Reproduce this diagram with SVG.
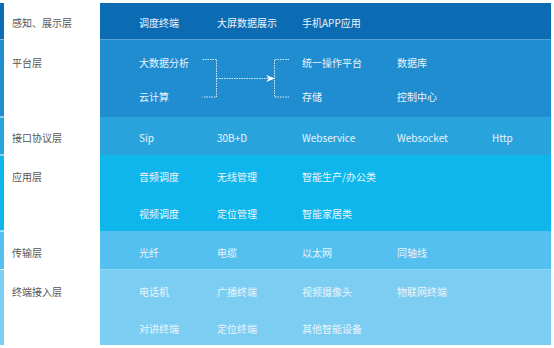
<svg xmlns="http://www.w3.org/2000/svg" width="554" height="348" viewBox="0 0 554 348">
<defs>
<style>
.lbl{font-family:"Noto Sans CJK SC","Noto Sans",sans-serif;font-size:10px;fill:#555;dominant-baseline:central}
.t{font-family:"Noto Sans CJK SC","Noto Sans",sans-serif;font-size:10px;fill:#eaf5fc;dominant-baseline:central}
.c{fill:none;stroke:#d6ecf8;stroke-width:1;stroke-dasharray:1.5 1}
</style>
<marker id="ah" viewBox="0 0 10 8" refX="9" refY="4" markerWidth="9" markerHeight="7" markerUnits="userSpaceOnUse" orient="auto">
<path d="M0,0 L10,4 L0,8 L3,4 Z" fill="#ffffff"/>
</marker>
</defs>
<rect width="554" height="348" fill="#ffffff"/>
<g id="layer-perception">
<rect x="0" y="3" width="4" height="36.5" fill="#0b6cb4"/>
<rect x="100" y="3" width="451" height="36.5" fill="#0b6cb4"/>
<text class="lbl" x="12" y="22">感知、展示层</text>
<text class="t" x="139" y="22">调度终端</text>
<text class="t" x="217" y="22">大屏数据展示</text>
<text class="t" x="302" y="22">手机APP应用</text>
</g>
<g id="layer-platform">
<rect x="0" y="40" width="4" height="76.5" fill="#1f8dcf"/>
<rect x="100" y="39.5" width="451" height="77.5" fill="#1f8dcf"/>
<text class="lbl" x="12" y="62">平台层</text>
<text class="t" x="139" y="62">大数据分析</text>
<text class="t" x="139" y="96">云计算</text>
<text class="t" x="302" y="62">统一操作平台</text>
<text class="t" x="302" y="96">存储</text>
<text class="t" x="397" y="62">数据库</text>
<text class="t" x="397" y="96">控制中心</text>
</g>
<g id="layer-interface">
<rect x="0" y="117.5" width="4" height="37" fill="#29a3dc"/>
<rect x="100" y="117" width="451" height="38" fill="#29a3dc"/>
<text class="lbl" x="12" y="137">接口协议层</text>
<text class="t" x="139" y="137">Sip</text>
<text class="t" x="217" y="137">30B+D</text>
<text class="t" x="302" y="137">Webservice</text>
<text class="t" x="397" y="137">Websocket</text>
<text class="t" x="492" y="137">Http</text>
</g>
<g id="layer-application">
<rect x="0" y="155.5" width="4" height="75" fill="#0eb6ec"/>
<rect x="100" y="155" width="451" height="76" fill="#0eb6ec"/>
<text class="lbl" x="12" y="176">应用层</text>
<text class="t" x="139" y="176">音频调度</text>
<text class="t" x="139" y="213">视频调度</text>
<text class="t" x="217" y="176">无线管理</text>
<text class="t" x="217" y="213">定位管理</text>
<text class="t" x="302" y="176">智能生产/办公类</text>
<text class="t" x="302" y="213">智能家居类</text>
</g>
<g id="layer-transport">
<rect x="0" y="231.5" width="4" height="37.5" fill="#53c0ef"/>
<rect x="100" y="231" width="451" height="38.5" fill="#53c0ef"/>
<text class="lbl" x="12" y="252">传输层</text>
<text class="t" x="139" y="252">光纤</text>
<text class="t" x="217" y="252">电缆</text>
<text class="t" x="302" y="252">以太网</text>
<text class="t" x="397" y="252">同轴线</text>
</g>
<g id="layer-terminal">
<rect x="0" y="270" width="4" height="75" fill="#7ccdf2"/>
<rect x="100" y="269.5" width="451" height="75.5" fill="#7ccdf2"/>
<text class="lbl" x="12" y="291">终端接入层</text>
<text class="t" x="139" y="291">电话机</text>
<text class="t" x="139" y="328">对讲终端</text>
<text class="t" x="217" y="291">广播终端</text>
<text class="t" x="217" y="328">定位终端</text>
<text class="t" x="302" y="291">视频摄像头</text>
<text class="t" x="302" y="328">其他智能设备</text>
<text class="t" x="397" y="291">物联网终端</text>
</g>
<g id="connectors">
<path class="c" d="M202.5,59.5 H216.5 V97 H202.5"/>
<path class="c" d="M289,59.5 H274.5 V97 H289"/>
<path class="c" d="M216.5,78.5 H274" marker-end="url(#ah)"/>
</g>
</svg>
